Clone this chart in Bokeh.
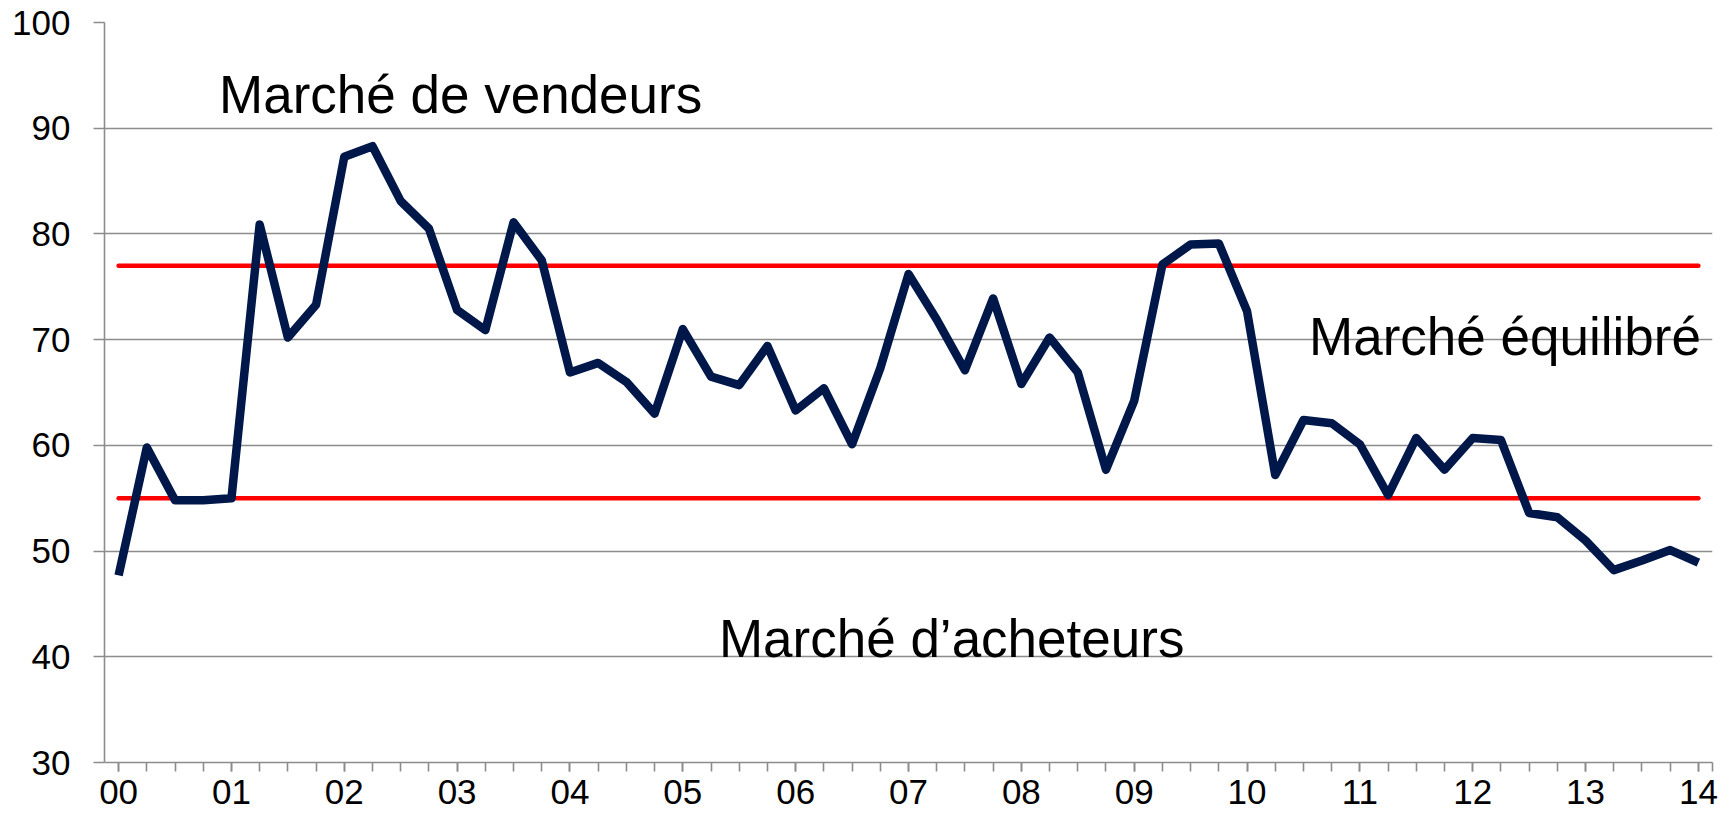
import numpy as np
from bokeh.plotting import figure
from bokeh.models import Range1d, FixedTicker
from bokeh.core.properties import value
from bokeh.embed import file_html
from bokeh.resources import INLINE

# Quarterly index values, Q1 2000 .. Q1 2014
indice = [47.7, 59.8, 54.8, 54.8, 55.0, 80.9, 70.2, 73.3,
          87.3, 88.3, 83.1, 80.5, 72.8, 70.9, 81.1, 77.5,
          66.9, 67.8, 66.0, 63.0, 71.0, 66.5, 65.7, 69.4,
          63.3, 65.4, 60.1, 67.3, 76.2, 71.9, 67.1, 73.9,
          65.8, 70.2, 66.9, 57.7, 64.2, 77.1, 79.0, 79.1,
          72.7, 57.2, 62.4, 62.1, 60.1, 55.3, 60.7, 57.7,
          60.7, 60.5, 53.6, 53.2, 51.0, 48.2, 49.1, 50.1, 48.9]
annees = ["00", "01", "02", "03", "04", "05", "06", "07",
          "08", "09", "10", "11", "12", "13", "14"]
seuil_haut = 77
seuil_bas = 55
zones = ["Marché de vendeurs", "Marché équilibré", "Marché d\u2019acheteurs"]
zones_x = [0.89, 10.55, 5.32]
zones_y = [93.2, 70.3, 41.7]

t = np.arange(len(indice)) / 4.0
year_pos = list(range(len(annees)))
quarter_pos = [q / 4.0 for q in range(4 * (len(annees) - 1) + 1)] + [len(annees) - 1 + 0.125]

FONT = "Liberation Sans"
GRID = "#8c8c8c"

p = figure(frame_width=1608, frame_height=740, output_backend="svg",
           toolbar_location=None, x_range=Range1d(-0.125, len(annees) - 1 + 0.125),
           y_range=Range1d(30, 100), min_border_left=104, min_border_top=22,
           min_border_right=14, min_border_bottom=56)
p.outline_line_color = None
p.background_fill_color = "white"
p.border_fill_color = "white"

# grid
p.xgrid.grid_line_color = None
p.ygrid.grid_line_color = GRID
p.ygrid.grid_line_width = 1.6
p.ygrid.ticker = FixedTicker(ticks=list(range(30, 101, 10)))

# y axis
p.yaxis.ticker = FixedTicker(ticks=list(range(30, 101, 10)), minor_ticks=[])
p.yaxis.axis_line_color = GRID
p.yaxis.axis_line_width = 1.6
p.yaxis.major_tick_line_color = GRID
p.yaxis.major_tick_line_width = 1.6
p.yaxis.major_tick_out = 11
p.yaxis.major_tick_in = 0
p.yaxis.minor_tick_line_color = None
p.yaxis.major_label_standoff = 23
p.yaxis.major_label_text_font = FONT
p.yaxis.major_label_text_font_size = "35px"
p.yaxis.major_label_text_color = "black"

# x axis
p.xaxis.ticker = FixedTicker(ticks=year_pos, minor_ticks=quarter_pos)
p.xaxis.major_label_overrides = {i: a for i, a in enumerate(annees)}
p.xaxis.axis_line_color = GRID
p.xaxis.axis_line_width = 1.6
p.xaxis.major_tick_line_color = GRID
p.xaxis.major_tick_line_width = 1.6
p.xaxis.major_tick_out = 9
p.xaxis.major_tick_in = 0
p.xaxis.minor_tick_line_color = GRID
p.xaxis.minor_tick_line_width = 1.6
p.xaxis.minor_tick_out = 9
p.xaxis.minor_tick_in = 0
p.xaxis.major_label_standoff = 8
p.xaxis.major_label_text_font = FONT
p.xaxis.major_label_text_font_size = "35px"
p.xaxis.major_label_text_color = "black"

# threshold lines
p.segment(x0=[0, 0], y0=[seuil_haut, seuil_bas], x1=[len(annees) - 1] * 2,
          y1=[seuil_haut, seuil_bas], line_color="#ff0000", line_width=4.5,
          line_cap="round")

# index line
p.line(t, indice, line_color="#00174a", line_width=8.5, line_join="round")

# zone labels
p.text(x=zones_x, y=zones_y, text=zones, text_font=value(FONT),
       text_font_size="53px", text_color="black",
       text_align="left", text_baseline="alphabetic")

open("out.html", "w").write(file_html(p, INLINE))
